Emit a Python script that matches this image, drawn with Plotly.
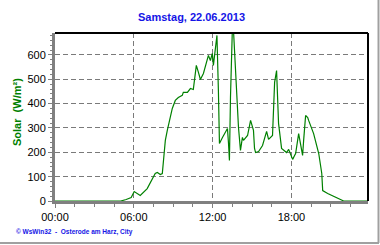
import plotly.graph_objects as go

hours = [0, 5.0, 5.42, 5.80, 6.03, 6.49, 7.02, 7.40, 7.63, 7.79, 8.02, 8.17, 8.24, 8.40, 8.55, 8.70,
         8.93, 9.16, 9.39, 9.69, 9.77, 10.08, 10.31, 10.53, 10.76, 10.92, 11.07, 11.30, 11.68, 11.83,
         11.98, 12.06, 12.14, 12.21, 12.33, 12.44, 12.52, 12.75, 13.13, 13.21, 13.28, 13.36, 13.51,
         13.59, 13.74, 13.89, 13.97, 14.12, 14.27, 14.35, 14.66, 14.89, 15.11, 15.19, 15.27, 15.50,
         15.80, 16.11, 16.26, 16.56, 16.72, 16.87, 16.95, 17.02, 17.25, 17.63, 17.79, 18.09, 18.24,
         18.32, 18.55, 18.70, 18.85, 18.93, 19.08, 19.24, 19.31, 19.69, 20.08, 20.31, 20.38, 20.76,
         21.76, 21.98, 23.83]
solar = [0, 0, 6, 14, 39, 23, 51, 92, 113, 117, 109, 113, 166, 249, 290, 331,
         380, 413, 425, 434, 446, 446, 462, 458, 557, 528, 499, 524, 598, 577,
         606, 557, 590, 631, 680, 454, 236, 261, 298, 236, 166, 425, 720,
         700, 536, 425, 302, 208, 261, 249, 269, 331, 290, 216, 199, 203,
         228, 286, 253, 269, 487, 536, 401, 319, 216, 199, 212, 171, 187,
         195, 277, 236, 187, 249, 351, 343, 331, 277, 195, 113, 43, 31,
         6, 0, 0]

tick_vals = [0, 6, 12, 18]
tick_text = ["00:00", "06:00", "12:00", "18:00"]
y_ticks = [0, 100, 200, 300, 400, 500, 600]

title_text = "Samstag, 22.06.2013"
y_title = "Solar  (W/m²)"
footer = "© WsWin32  -  Osterode am Harz, City"

FONT = "Arial, Liberation Sans, sans-serif"

fig = go.Figure()
fig.add_trace(go.Scatter(x=hours, y=solar, mode="lines",
                         line=dict(color="#008000", width=1.2), hoverinfo="skip"))

W, H = 380, 245
L, R, T, B = 55, 12, 33, 44
pw, ph = W - L - R, H - T - B

fig.update_layout(
    width=W, height=H,
    margin=dict(l=L, r=R, t=T, b=B),
    paper_bgcolor="white", plot_bgcolor="white",
    showlegend=False,
    font=dict(family=FONT, size=11, color="black"),
)
fig.update_xaxes(
    range=[0, 23.83], tickvals=tick_vals, ticktext=tick_text,
    showgrid=True, gridcolor="#7a7a7a", griddash="5px,3px", gridwidth=1,
    showline=True, linecolor="#808080", linewidth=3,
    ticks="outside", ticklen=4, tickcolor="#808080", tickwidth=1,
    minor=dict(dtick=1.5, tick0=0, ticks="outside", ticklen=3, tickcolor="#808080", showgrid=False),
    zeroline=False, tickfont=dict(size=11, color="black"),
)
fig.update_yaxes(
    range=[0, 690], tickvals=y_ticks,
    showgrid=True, gridcolor="#7a7a7a", griddash="5px,3px", gridwidth=1,
    showline=True, linecolor="#808080", linewidth=3,
    ticks="outside", ticklen=4, tickcolor="#808080", tickwidth=1,
    minor=dict(dtick=20, tick0=0, ticks="outside", ticklen=2, tickcolor="#808080", showgrid=False),
    zeroline=False, tickfont=dict(size=11, color="black"),
)

# top and right plot border (black)
fig.add_shape(type="line", xref="paper", yref="paper", x0=0, x1=1, y0=1, y1=1,
              line=dict(color="black", width=2), layer="above")
fig.add_shape(type="line", xref="paper", yref="paper", x0=1, x1=1, y0=0, y1=1,
              line=dict(color="black", width=2), layer="above")

def px_x(x):
    return (x - L) / pw
def px_y(y):
    return (H - B - y) / ph

# outer frame (grey) right and bottom
fig.add_shape(type="line", xref="paper", yref="paper", x0=px_x(378.5), x1=px_x(378.5),
              y0=px_y(0), y1=px_y(243), line=dict(color="#a0a0a0", width=2), layer="above")
fig.add_shape(type="line", xref="paper", yref="paper", x0=px_x(0), x1=px_x(379),
              y0=px_y(243), y1=px_y(243), line=dict(color="#a0a0a0", width=2), layer="above")

fig.add_annotation(text="<b>" + title_text + "</b>", xref="paper", yref="paper",
                   x=px_x(191), y=px_y(17), showarrow=False,
                   font=dict(family=FONT, size=11, color="#1414e6"),
                   xanchor="center", yanchor="middle")
fig.add_annotation(text="<b>" + y_title + "</b>", xref="paper", yref="paper",
                   x=px_x(17), y=px_y(112), showarrow=False, textangle=-90,
                   font=dict(family=FONT, size=11, color="#008000"),
                   xanchor="center", yanchor="middle")
fig.add_annotation(text="<b>" + footer + "</b>", xref="paper", yref="paper",
                   x=px_x(14), y=px_y(232), showarrow=False,
                   font=dict(family=FONT, size=6.5, color="#1414e6"),
                   xanchor="left", yanchor="middle")

fig.write_html("out.html")
